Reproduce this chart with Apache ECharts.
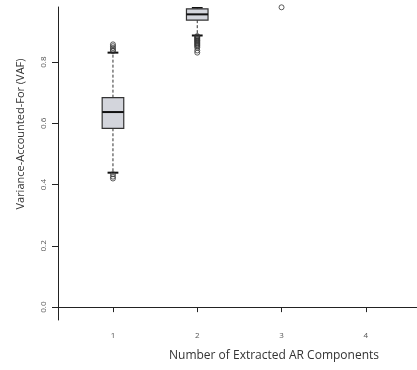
<!DOCTYPE html>
<html>
<head>
<meta charset="UTF-8">
<title>VAF boxplot</title>
<script src="https://cdn.jsdelivr.net/npm/echarts@6/dist/echarts.min.js"></script>
<style>html,body{margin:0;padding:0;background:#fff;}</style>
</head>
<body>
<div id="main" style="width:417px;height:370px;"></div>
<script type="text/javascript">
// box statistics per number of components
var components  = [1, 2, 3, 4];
var whiskerLow  = [0.439, 0.887, 0.986, 0.998];
var boxQ1       = [0.584, 0.937, 0.991, 0.999];
var boxMedian   = [0.637, 0.956, 0.994, 0.9995];
var boxQ3       = [0.684, 0.974, 0.997, 1.0];
var whiskerHigh = [0.831, 0.978, 1.0, 1.0];

// outlying points (component, value)
var outlierX = [1, 1, 1, 1, 1, 1, 1, 1,
                2, 2, 2, 2, 2, 2, 2, 2, 2, 2, 2, 2, 2, 2, 2, 2,
                3];
var outlierY = [0.858, 0.852, 0.846, 0.840, 0.836, 0.434, 0.426, 0.420,
                0.885, 0.883, 0.880, 0.878, 0.875, 0.872, 0.870, 0.867, 0.864, 0.861, 0.858, 0.855, 0.852, 0.847, 0.838, 0.831,
                0.979];

var yTicks = [0, 0.2, 0.4, 0.6, 0.8];

var boxData = [];
for (var i = 0; i < components.length; i++) {
    boxData.push([components[i], whiskerLow[i], boxQ1[i], boxMedian[i], boxQ3[i], whiskerHigh[i]]);
}
var outData = [];
for (var j = 0; j < outlierX.length; j++) {
    outData.push([outlierX[j], outlierY[j]]);
}

function renderBox(params, api) {
    var x = api.value(0);
    var low = api.coord([x, api.value(1)]);
    var q1 = api.coord([x, api.value(2)]);
    var med = api.coord([x, api.value(3)]);
    var q3 = api.coord([x, api.value(4)]);
    var high = api.coord([x, api.value(5)]);
    var half = api.size([0.256, 0])[0] / 2;
    var cx = low[0];
    var dash = {stroke: '#333', lineWidth: 1, lineDash: [3, 2]};
    var cap = {stroke: '#111', lineWidth: 2};
    return {
        type: 'group',
        children: [
            {type: 'line', shape: {x1: cx, y1: q1[1], x2: cx, y2: low[1]}, style: dash},
            {type: 'line', shape: {x1: cx, y1: q3[1], x2: cx, y2: high[1]}, style: dash},
            {type: 'line', shape: {x1: cx - half / 2, y1: low[1], x2: cx + half / 2, y2: low[1]}, style: cap},
            {type: 'line', shape: {x1: cx - half / 2, y1: high[1], x2: cx + half / 2, y2: high[1]}, style: cap},
            {type: 'rect', shape: {x: cx - half, y: q3[1], width: half * 2, height: q1[1] - q3[1]},
             style: {fill: '#d3d5dc', stroke: '#333', lineWidth: 1.2}},
            {type: 'line', shape: {x1: cx - half, y1: med[1], x2: cx + half, y2: med[1]},
             style: {stroke: '#111', lineWidth: 2}}
        ]
    };
}

var myChart = echarts.init(document.getElementById('main'));
var option = {
    animation: false,
    grid: {left: 58, right: 0, top: 7, bottom: 50},
    xAxis: {
        type: 'value',
        min: 0.348,
        max: 4.607,
        splitLine: {show: false},
        axisLine: {show: true, lineStyle: {color: '#222', width: 1}},
        axisTick: {show: true, customValues: components, length: 5, lineStyle: {color: '#222'}},
        axisLabel: {customValues: components, fontSize: 8, color: '#555', margin: 12,
                    fontFamily: 'Open Sans'}
    },
    yAxis: {
        type: 'value',
        min: -0.042,
        max: 0.98,
        splitLine: {show: false},
        axisLine: {show: true, lineStyle: {color: '#222', width: 1}},
        axisTick: {show: true, customValues: yTicks, length: 6, lineStyle: {color: '#222'}},
        axisLabel: {customValues: yTicks, fontSize: 8, color: '#555', rotate: 90, margin: 10,
                    fontFamily: 'Open Sans',
                    formatter: function (v) { return v.toFixed(1); }}
    },
    graphic: [
        {type: 'text', x: 274, y: 356,
         style: {text: 'Number of Extracted AR Components', fontSize: 12, fontFamily: 'Open Sans',
                 fill: '#333', textAlign: 'center', textVerticalAlign: 'middle'}},
        {type: 'text', x: 21, y: 134, rotation: Math.PI / 2,
         style: {text: 'Variance-Accounted-For (VAF)', fontSize: 11, fontFamily: 'Open Sans',
                 fill: '#333', textAlign: 'center', textVerticalAlign: 'middle'}}
    ],
    series: [
        {
            type: 'custom',
            clip: true,
            renderItem: renderBox,
            data: boxData
        },
        {
            type: 'scatter',
            symbol: 'circle',
            symbolSize: 5,
            clip: true,
            itemStyle: {color: 'rgba(0,0,0,0)', borderColor: '#333', borderWidth: 1},
            data: outData
        }
    ]
};
myChart.setOption(option);
</script>
</body>
</html>
